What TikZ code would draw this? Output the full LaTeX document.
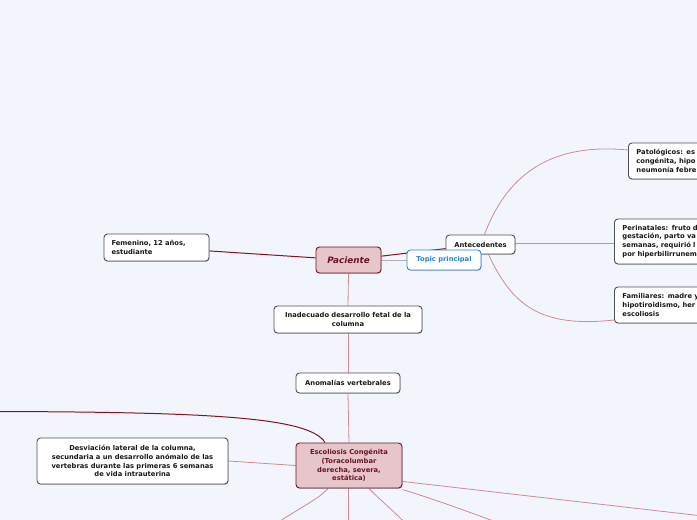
\documentclass[tikz,border=0pt]{standalone}
\usepackage{fontspec}
\setmainfont{DejaVu Sans}
\usetikzlibrary{shadows}
\definecolor{bgc}{RGB}{243,245,253}
\definecolor{boxborder}{RGB}{80,80,86}
\definecolor{darkred}{RGB}{130,20,30}
\definecolor{lightred}{RGB}{205,140,148}
\definecolor{pinkfill}{RGB}{230,198,203}
\definecolor{pinkborder}{RGB}{105,20,38}
\definecolor{topicblue}{RGB}{40,130,225}
\definecolor{greyline}{RGB}{175,175,185}
\pgfdeclarelayer{edges}
\pgfsetlayers{edges,main}
\tikzset{
  box/.style={draw=boxborder, line width=0.9pt, rounded corners=3.5pt, fill=white,
    font=\fontsize{6.75}{8.8}\selectfont\bfseries, text=black!90, inner sep=0pt, align=center,
    drop shadow={shadow xshift=0.5pt, shadow yshift=-0.8pt, fill=black!45, opacity=0.5}},
  leftbox/.style={box, align=left},
  pinkbox/.style={box, fill=pinkfill, draw=pinkborder, text=pinkborder},
  topicbox/.style={box, draw=topicblue, text=topicblue, drop shadow={opacity=0}},
  darkline/.style={draw=darkred, line width=1pt},
  lightline/.style={draw=lightred, line width=0.8pt},
  greyconn/.style={draw=greyline, line width=1pt}
}
\begin{document}
\begin{tikzpicture}[x=1pt,y=-1pt]
\useasboundingbox (0,0) rectangle (697,520);
% nodes
\node[pinkbox, minimum width=65pt, minimum height=26pt,
  font=\fontsize{8.8}{10}\selectfont\bfseries\itshape] (pac) at (348.5,260) {Paciente};
\node[box, minimum width=69pt, minimum height=19pt] (ant) at (480.5,244.5) {Antecedentes};
\node[topicbox, minimum width=74pt, minimum height=20pt] (top) at (444,260) {Topic principal};
\node[leftbox, minimum width=105pt, minimum height=27pt, text width=90pt] (fem) at (156.5,247.5) {Femenino, 12 años,\\estudiante};
\node[leftbox, anchor=west, minimum width=150pt, minimum height=36pt, text width=134pt] (pat) at (628,161) {Patológicos: es\\congénita, hipo\\neumonía febre};
\node[leftbox, anchor=west, minimum width=150pt, minimum height=45pt, text width=134pt] (per) at (614,241.5) {Perinatales: fruto d\\gestación, parto va\\semanas, requirió l\\por hiperbilirrunem};
\node[leftbox, anchor=west, minimum width=150pt, minimum height=36pt, text width=134pt] (fam) at (614,305) {Familiares: madre y\\hipotiroidismo, her\\escoliosis};
\node[box, minimum width=148pt, minimum height=27pt] (ina) at (348,319.5) {Inadecuado desarrollo fetal de la\\columna};
\node[box, minimum width=104pt, minimum height=20pt] (ano) at (348,383) {Anomalías vertebrales};
\node[pinkbox, minimum width=106pt, minimum height=45pt] (esc) at (349,465.5) {Escoliosis Congénita\\(Toracolumbar\\derecha, severa,\\estática)};
\node[box, minimum width=191pt, minimum height=46pt] (des) at (132.5,461) {Desviación lateral de la columna,\\secundaria a un desarrollo anómalo de las\\vertebras durante las primeras 6 semanas\\de vida intrauterina};
% free ends
\coordinate (offl) at (-5,411.5);
\coordinate (offb1) at (270,528);
\coordinate (offb2) at (348,528);
\coordinate (offb3) at (410,528);
\coordinate (offb4) at (512,528);
\coordinate (offb5) at (720,518);
\begin{pgfonlayer}{edges}
\fill[bgc] (-10,-10) rectangle (710,530);
\draw[darkline] (pac) -- (fem);
\draw[darkline] (pac) -- (ant);
\draw[greyconn] (pac.east) -- (top.west);
\draw[lightline] ([xshift=4pt]ant.north) .. controls (505,180) and (545,142) .. ([yshift=11pt]pat.west);
\draw[lightline] (ant.east |- 0,243) -- (per.west |- 0,243);
\draw[lightline] ([xshift=8pt]ant.south) .. controls (512,305) and (540,328) .. ([yshift=-15pt]fam.west);
\draw[lightline] (pac.south) -- (ina.north);
\draw[lightline] (ina.south) -- (ano.north);
\draw[lightline] (ano.south) -- (esc.north);
\draw[lightline] (esc.west) -- (des.east);
\draw[darkline] ([xshift=-24pt]esc.north) .. controls (310,418) and (220,412) .. (offl);
\draw[lightline] ([xshift=-21pt]esc.south) .. controls (318,500) and (295,510) .. (offb1);
\draw[lightline] (esc.south) ++(-1,0) -- (offb2);
\draw[lightline] ([xshift=20pt]esc.south) .. controls (380,500) and (395,512) .. (offb3);
\draw[lightline] ([yshift=-1pt]esc.south east) .. controls (430,498) and (470,512) .. (offb4);
\draw[lightline] ([yshift=7pt]esc.south east) -- (offb5);
\end{pgfonlayer}
\end{tikzpicture}
\end{document}
